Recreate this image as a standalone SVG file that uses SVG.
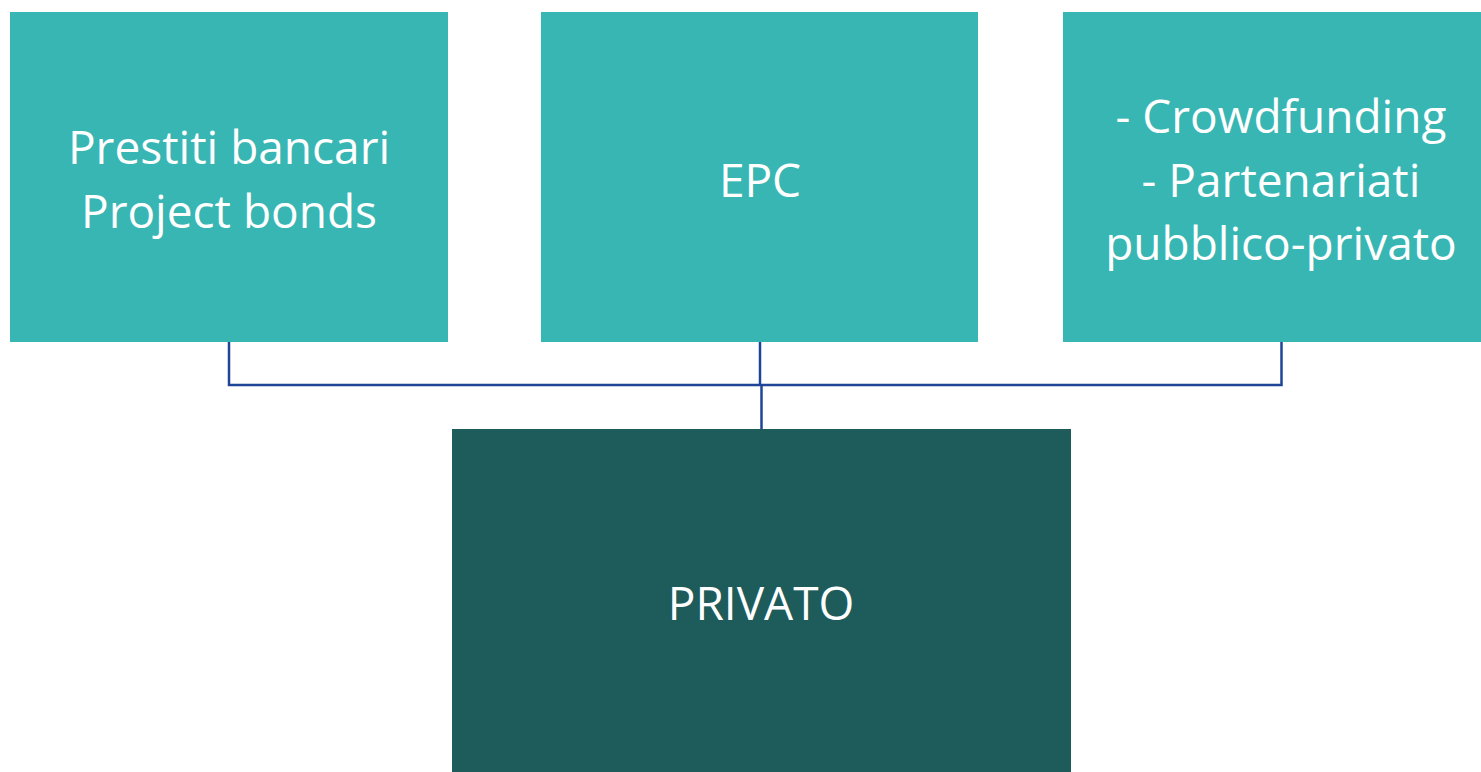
<svg xmlns="http://www.w3.org/2000/svg" width="1481" height="772" viewBox="0 0 1481 772">
<style>
.top{fill:#38B6B3}
.bot{fill:#1E5B5B}
.t{font-family:"Open Sans","Liberation Sans",sans-serif;font-size:46px;fill:#fff;text-anchor:middle}
.c{fill:none;stroke:#1F4597;stroke-width:2.5}
</style>
<rect width="1481" height="772" fill="#fff"/>
<g id="connectors">
<path class="c" d="M229,342 V385 H1281.5 V342"/>
<path class="c" d="M760,342 V385"/>
<path class="c" d="M761.5,385 V429"/>
</g>
<g id="n1"><rect class="top" x="10" y="12" width="438" height="330"/>
<text class="t" x="229" y="164">Prestiti bancari</text>
<text class="t" x="229" y="228">Project bonds</text></g>
<g id="n2"><rect class="top" x="541" y="12" width="437" height="330"/>
<text class="t" x="760" y="197">EPC</text></g>
<g id="n3"><rect class="top" x="1063" y="12" width="418" height="330"/>
<text class="t" x="1281" y="133">- Crowdfunding</text>
<text class="t" x="1281" y="197">- Partenariati</text>
<text class="t" x="1281" y="260">pubblico-privato</text></g>
<g id="n4"><rect class="bot" x="452" y="429" width="619" height="343"/>
<text class="t" x="761" y="620">PRIVATO</text></g>
</svg>
